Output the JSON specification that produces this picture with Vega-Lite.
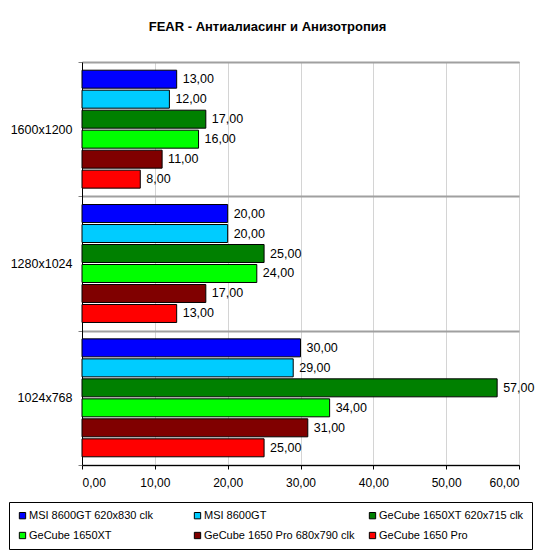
{
  "$schema": "https://vega.github.io/schema/vega-lite/v6.json",
  "autosize": {"type": "none"},
  "width": 437,
  "height": 403,
  "padding": {"left": 82, "top": 62, "right": 31, "bottom": 87},
  "background": "white",
  "title": {
    "text": "FEAR - Антиалиасинг и Анизотропия",
    "font": "Liberation Sans",
    "fontSize": 13,
    "fontWeight": "bold",
    "color": "black",
    "anchor": "middle",
    "frame": "group",
    "dx": -33,
    "offset": 22
  },
  "data": {
    "values": [
      {"res": "1600x1200", "card": "MSI 8600GT 620x830 clk", "fps": 13},
      {"res": "1600x1200", "card": "MSI 8600GT", "fps": 12},
      {"res": "1600x1200", "card": "GeCube 1650XT 620x715 clk", "fps": 17},
      {"res": "1600x1200", "card": "GeCube 1650XT", "fps": 16},
      {"res": "1600x1200", "card": "GeCube 1650 Pro 680x790 clk", "fps": 11},
      {"res": "1600x1200", "card": "GeCube 1650 Pro", "fps": 8},
      {"res": "1280x1024", "card": "MSI 8600GT 620x830 clk", "fps": 20},
      {"res": "1280x1024", "card": "MSI 8600GT", "fps": 20},
      {"res": "1280x1024", "card": "GeCube 1650XT 620x715 clk", "fps": 25},
      {"res": "1280x1024", "card": "GeCube 1650XT", "fps": 24},
      {"res": "1280x1024", "card": "GeCube 1650 Pro 680x790 clk", "fps": 17},
      {"res": "1280x1024", "card": "GeCube 1650 Pro", "fps": 13},
      {"res": "1024x768", "card": "MSI 8600GT 620x830 clk", "fps": 30},
      {"res": "1024x768", "card": "MSI 8600GT", "fps": 29},
      {"res": "1024x768", "card": "GeCube 1650XT 620x715 clk", "fps": 57},
      {"res": "1024x768", "card": "GeCube 1650XT", "fps": 34},
      {"res": "1024x768", "card": "GeCube 1650 Pro 680x790 clk", "fps": 31},
      {"res": "1024x768", "card": "GeCube 1650 Pro", "fps": 25}
    ]
  },
  "encoding": {
    "y": {
      "field": "res",
      "type": "nominal",
      "sort": ["1600x1200", "1280x1024", "1024x768"],
      "scale": {"paddingInner": 0, "paddingOuter": 0},
      "axis": {
        "title": null,
        "tickBand": "extent",
        "grid": true,
        "gridColor": "#a0a0a0",
        "gridWidth": 2,
        "ticks": true,
        "tickSize": 4,
        "tickColor": "#808080",
        "domainColor": "black",
        "labelFont": "Liberation Sans",
        "labelFontSize": 12.5,
        "labelColor": "black",
        "labelPadding": 6
      }
    },
    "yOffset": {
      "field": "card",
      "type": "nominal",
      "sort": ["MSI 8600GT 620x830 clk", "MSI 8600GT", "GeCube 1650XT 620x715 clk", "GeCube 1650XT", "GeCube 1650 Pro 680x790 clk", "GeCube 1650 Pro"],
      "scale": {"paddingInner": 0.1, "paddingOuter": 0.41}
    },
    "x": {
      "field": "fps",
      "type": "quantitative",
      "scale": {"domain": [0, 60], "nice": false},
      "axis": {
        "title": null,
        "values": [0, 10, 20, 30, 40, 50, 60],
        "format": ".2f",
        "grid": true,
        "gridColor": "#d4d4d4",
        "tickSize": 4,
        "tickColor": "black",
        "domainColor": "black",
        "labelFont": "Liberation Sans",
        "labelFontSize": 12,
        "labelColor": "black",
        "labelPadding": 8
      }
    }
  },
  "layer": [
    {
      "mark": {"type": "bar", "stroke": "black", "strokeWidth": 1},
      "encoding": {
        "color": {
          "field": "card",
          "type": "nominal",
          "scale": {
            "domain": ["MSI 8600GT 620x830 clk", "MSI 8600GT", "GeCube 1650XT 620x715 clk", "GeCube 1650XT", "GeCube 1650 Pro 680x790 clk", "GeCube 1650 Pro"],
            "range": ["#0000ff", "#00ccff", "#008000", "#00ff00", "#800000", "#ff0000"]
          },
          "legend": {
            "title": null,
            "orient": "none",
            "legendX": -73,
            "legendY": 440,
            "direction": "horizontal",
            "columns": 3,
            "gridAlign": "all",
            "columnPadding": 12,
            "rowPadding": 8,
            "padding": 8,
            "strokeColor": "black",
            "fillColor": "white",
            "symbolType": "square",
            "symbolSize": 40,
            "symbolStrokeColor": "black",
            "symbolStrokeWidth": 1,
            "symbolOpacity": 1,
            "labelFont": "Liberation Sans",
            "labelFontSize": 11,
            "labelColor": "black",
            "labelOffset": 1,
            "labelLimit": 300
          }
        }
      }
    },
    {
      "mark": {"type": "text", "align": "left", "baseline": "middle", "dx": 6, "font": "Liberation Sans", "fontSize": 12.5, "color": "black"},
      "encoding": {
        "text": {"field": "fps", "type": "quantitative", "format": ".2f"}
      }
    }
  ],
  "config": {
    "locale": {
      "number": {"decimal": ",", "thousands": " ", "grouping": [3], "currency": ["", ""]}
    },
    "view": {"stroke": "#808080"}
  }
}
